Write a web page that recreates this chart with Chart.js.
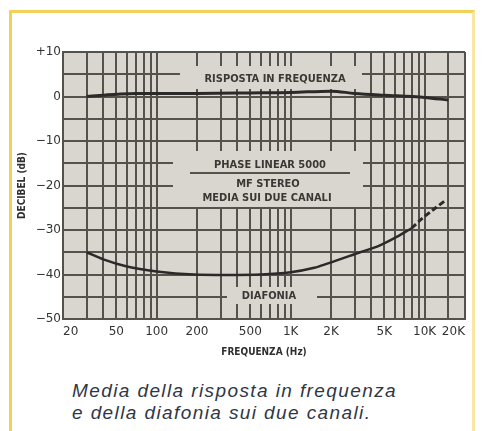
<!DOCTYPE html>
<html>
<head>
<meta charset="utf-8">
<script src="https://cdn.jsdelivr.net/npm/chart.js@4.4.1/dist/chart.umd.min.js"></script>
<style>
  html, body { margin: 0; padding: 0; background: #ffffff; }
  body { width: 482px; height: 431px; position: relative; overflow: hidden; }
  .frame {
    position: absolute; left: 9px; top: 10px; width: 460px; height: 440px;
    border-left: 3px solid #f1d257; border-top: 3px solid #f1d257;
    border-right: 3px solid #f7e6a4;
  }
  .chart-box { position: absolute; left: 0; top: 0; width: 482px; height: 360px; }
  .caption {
    position: absolute; left: 72px; top: 380px;
    font: italic 19px "Liberation Sans", Arial, sans-serif;
    letter-spacing: 1.4px; line-height: 22px; color: #2f3747;
  }
</style>
</head>
<body>
<div class="frame"></div>
<div class="chart-box"><canvas id="c" width="482" height="360"></canvas></div>
<div class="caption">Media della risposta in frequenza<br>e della diafonia sui due canali.</div>
<script>
// Frequency axis: graph-paper lines and the printed labels
const gridFreqs = [20, 30, 40, 50, 60, 70, 80, 90, 100, 200, 300, 400, 500, 600, 700, 800, 900,
                   1000, 2000, 3000, 4000, 5000, 6000, 7000, 8000, 9000, 10000, 15000, 20000];
const freqLabels = { 20: '20', 50: '50', 100: '100', 200: '200', 500: '500', 1000: '1K',
                     2000: '2K', 5000: '5K', 10000: '10K', 20000: '20K' };

// Average frequency response (dB)
const respFreq = [30, 40, 50, 70, 100, 200, 500, 1000, 2000, 3000, 5000, 8000, 10000, 15000];
const respDb   = [0, 0.3, 0.5, 0.7, 0.7, 0.7, 0.8, 0.9, 1.2, 0.7, 0.3, 0, -0.2, -0.8];

// Average crosstalk (dB), measured part
const xtalkFreq = [30, 40, 60, 100, 190, 330, 600, 1000, 1500, 1900, 3300, 4600, 5800, 8000];
const xtalkDb   = [-35, -36.6, -38.2, -39.3, -40, -40.1, -40, -39.5, -38.5, -37.5, -35, -33.5, -32, -29.6];
// Crosstalk, extrapolated (dashed) part
const xtalkExtFreq = [8000, 9500, 11500, 14500];
const xtalkExtDb   = [-29.6, -27.5, -25.5, -23.2];

const yMin = -50, yMax = 10;

const INK = '#2b2a28';
const GRID = '#55524d';
const PAPER = '#d8d6cf';
const condensed = "'DejaVu Sans Condensed', 'DejaVu Sans', sans-serif";

// Captions printed on the graph paper: text lines, erased grid area, optional rule
const plotNotes = [
  { box: [180, 362, 66, 89], lines: [['RISPOSTA IN FREQUENZA', 275, 79]] },
  { box: [173, 363, 151, 207],
    lines: [['PHASE LINEAR 5000', 270, 165], ['MF STEREO', 268, 184], ['MEDIA SUI DUE CANALI', 267, 198]],
    rule: [190, 350, 173] },
  { box: [227, 317, 287, 304], lines: [['DIAFONIA', 269, 296]] }
];

const paperPlugin = {
  id: 'paper',
  beforeDraw(chart) {
    const { ctx, chartArea: a } = chart;
    ctx.save();
    ctx.fillStyle = PAPER;
    ctx.fillRect(a.left, a.top, a.right - a.left, a.bottom - a.top);
    ctx.restore();
  },
  beforeDatasetsDraw(chart) {
    const { ctx } = chart;
    ctx.save();
    plotNotes.forEach(n => {
      const [x0, x1, y0, y1] = n.box;
      ctx.fillStyle = PAPER;
      ctx.fillRect(x0, y0, x1 - x0, y1 - y0);
      if (n.rule) {
        ctx.strokeStyle = GRID; ctx.lineWidth = 2;
        ctx.beginPath(); ctx.moveTo(n.rule[0], n.rule[2]); ctx.lineTo(n.rule[1], n.rule[2]); ctx.stroke();
      }
      ctx.fillStyle = '#3a3835';
      ctx.font = "bold 11px " + condensed;
      ctx.textAlign = 'center'; ctx.textBaseline = 'middle';
      n.lines.forEach(([t, x, y]) => ctx.fillText(t, x, y));
    });
    ctx.restore();
  }
};

const toPts = (xs, ys) => xs.map((f, i) => ({ x: f, y: ys[i] }));

new Chart(document.getElementById('c'), {
  type: 'line',
  data: {
    datasets: [
      { data: toPts(respFreq, respDb), borderColor: INK, borderWidth: 3, pointRadius: 0, tension: 0.4, cubicInterpolationMode: 'monotone' },
      { data: toPts(xtalkFreq, xtalkDb), borderColor: INK, borderWidth: 2.5, pointRadius: 0, tension: 0.4, cubicInterpolationMode: 'monotone' },
      { data: toPts(xtalkExtFreq, xtalkExtDb), borderColor: INK, borderWidth: 3, borderDash: [6, 3], pointRadius: 0, tension: 0.3 }
    ]
  },
  options: {
    responsive: false,
    animation: false,
    events: [],
    layout: { padding: { left: 0, right: 17, top: 52, bottom: 0 } },
    plugins: { legend: { display: false }, tooltip: { enabled: false } },
    scales: {
      x: {
        type: 'logarithmic', min: 20, max: 20000,
        afterBuildTicks: s => { s.ticks = gridFreqs.map(v => ({ value: v })); },
        afterFit: s => { s.height = 41; },
        grid: { color: GRID, lineWidth: 2, drawTicks: false },
        border: { color: GRID, width: 2 },
        ticks: {
          autoSkip: false, maxRotation: 0, align: 'inner', padding: 6, color: '#333',
          font: { family: "'DejaVu Sans', sans-serif", size: 12 },
          callback: v => freqLabels[v] || ''
        },
        title: {
          display: true, text: 'FREQUENZA (Hz)', color: '#2f2f2f',
          font: { family: condensed, size: 10, weight: 'bold' }, padding: { top: 0, bottom: 2 }
        }
      },
      y: {
        min: yMin, max: yMax,
        afterFit: s => { s.width = 63; },
        grid: { color: GRID, lineWidth: 2, drawTicks: false },
        border: { color: GRID, width: 2 },
        ticks: {
          stepSize: 5, padding: 2, color: '#333',
          font: { family: "'DejaVu Sans', sans-serif", size: 12 },
          callback: v => (v % 10 !== 0) ? '' : (v > 0 ? '+' + v : (v < 0 ? '\u2212' + (-v) : '0'))
        },
        title: {
          display: true, text: 'DECIBEL (dB)', color: '#2f2f2f',
          font: { family: condensed, size: 10, weight: 'bold' }, padding: { top: 16, bottom: 0 }
        }
      }
    }
  },
  plugins: [paperPlugin]
});
</script>
</body>
</html>
